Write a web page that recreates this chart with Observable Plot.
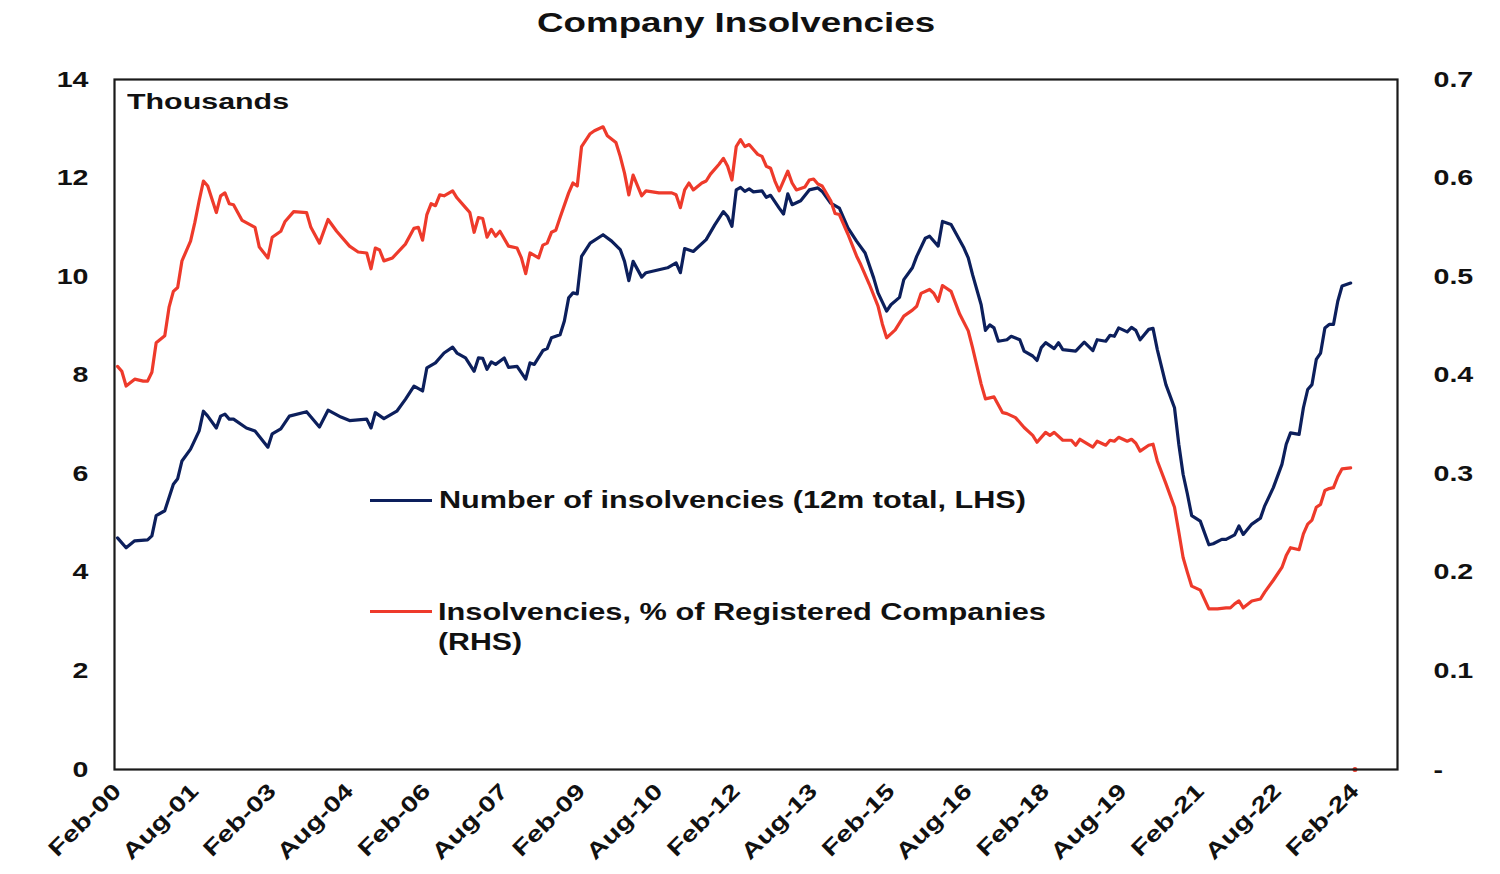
<!DOCTYPE html>
<html>
<head>
<meta charset="utf-8">
<script src="https://cdn.jsdelivr.net/npm/d3@7"></script>
<script src="https://cdn.jsdelivr.net/npm/@observablehq/plot@0.6"></script>
<style>
  body { margin: 0; background: #fff; }
  #wrap { position: relative; width: 1500px; height: 874px; overflow: hidden; font-family: 'Liberation Sans', Arial, sans-serif; font-weight: bold; color: #111; }
  .lbl { position: absolute; white-space: nowrap; transform-origin: 0 0; }
  .key { position: absolute; height: 3px; }
  #chart { position: absolute; left: 0; top: 55px; }
</style>
</head>
<body>
<div id="wrap">
  <div id="chart"></div>
</div>
<script>
// ---- Data (months since Feb-2000) ----
const xTickMonths = [0, 18, 36, 54, 72, 90, 108, 126, 144, 162, 180, 198, 216, 234, 252, 270, 288];
const xTickLabels = ["Feb-00","Aug-01","Feb-03","Aug-04","Feb-06","Aug-07","Feb-09","Aug-10","Feb-12","Aug-13","Feb-15","Aug-16","Feb-18","Aug-19","Feb-21","Aug-22","Feb-24"];
const leftTicks = [0, 2, 4, 6, 8, 10, 12, 14];

// Number of insolvencies (12m total, thousands, LHS)
const blueSeries = [[0,4.70],[2,4.50],[4,4.64],[7,4.66],[8,4.74],[9,5.15],[11,5.25],[13,5.79],[14,5.90],[15,6.26],[17,6.50],[19,6.87],[20,7.27],[21,7.17],[23,6.93],[24,7.17],[25,7.21],[26,7.11],[27,7.11],[30,6.93],[32,6.87],[35,6.54],[36,6.81],[38,6.91],[40,7.17],[44,7.26],[47,6.95],[49,7.29],[52,7.15],[54,7.08],[58,7.11],[59,6.93],[60,7.24],[62,7.12],[65,7.27],[67,7.51],[69,7.78],[71,7.68],[72,8.15],[74,8.25],[76,8.45],[78,8.57],[79,8.45],[81,8.35],[83,8.08],[84,8.35],[85,8.34],[86,8.12],[87,8.27],[88,8.22],[90,8.35],[91,8.16],[93,8.18],[95,7.92],[96,8.25],[97,8.22],[99,8.50],[100,8.54],[101,8.76],[103,8.82],[104,9.10],[105,9.57],[106,9.67],[107,9.65],[108,10.41],[110,10.68],[113,10.85],[115,10.72],[117,10.55],[118,10.31],[119,9.92],[120,10.31],[122,9.99],[123,10.08],[126,10.14],[128,10.18],[130,10.28],[131,10.08],[132,10.57],[134,10.51],[137,10.75],[139,11.05],[141,11.32],[142,11.22],[143,11.02],[144,11.76],[145,11.81],[146,11.73],[147,11.78],[148,11.72],[150,11.74],[151,11.61],[152,11.65],[154,11.39],[155,11.27],[156,11.68],[157,11.46],[159,11.54],[161,11.76],[163,11.80],[164,11.73],[166,11.49],[168,11.39],[170,10.99],[172,10.72],[174,10.48],[176,9.97],[177,9.67],[179,9.30],[180,9.43],[182,9.58],[183,9.94],[185,10.18],[186,10.41],[188,10.78],[189,10.82],[191,10.62],[192,11.12],[194,11.06],[197,10.58],[198,10.38],[199,10.04],[201,9.43],[202,8.91],[203,9.02],[204,8.96],[205,8.69],[207,8.72],[208,8.79],[210,8.72],[211,8.49],[213,8.39],[214,8.30],[215,8.56],[216,8.66],[218,8.54],[219,8.66],[220,8.52],[223,8.49],[225,8.67],[227,8.50],[228,8.72],[230,8.69],[231,8.81],[232,8.79],[233,8.96],[235,8.88],[236,8.97],[237,8.91],[238,8.72],[240,8.93],[241,8.95],[242,8.52],[244,7.81],[246,7.34],[247,6.60],[248,5.99],[249,5.59],[250,5.15],[252,5.04],[254,4.56],[255,4.58],[257,4.67],[258,4.67],[260,4.76],[261,4.94],[262,4.77],[264,4.98],[266,5.10],[267,5.35],[269,5.72],[271,6.19],[272,6.60],[273,6.83],[275,6.80],[276,7.34],[277,7.71],[278,7.81],[279,8.32],[280,8.45],[281,8.96],[282,9.03],[283,9.03],[284,9.50],[285,9.81],[287,9.87]];

// Insolvencies, % of registered companies (RHS)
const redSeries = [[0,0.409],[1,0.404],[2,0.389],[4,0.396],[6,0.394],[7,0.394],[8,0.403],[9,0.433],[11,0.440],[12,0.469],[13,0.485],[14,0.489],[15,0.516],[17,0.536],[18,0.555],[19,0.577],[20,0.597],[21,0.592],[23,0.565],[24,0.582],[25,0.585],[26,0.574],[27,0.573],[29,0.557],[32,0.550],[33,0.530],[35,0.519],[36,0.540],[38,0.546],[39,0.556],[41,0.566],[44,0.565],[45,0.550],[47,0.534],[49,0.558],[51,0.546],[54,0.531],[56,0.525],[58,0.524],[59,0.508],[60,0.529],[61,0.527],[62,0.516],[64,0.519],[67,0.533],[69,0.549],[70,0.550],[71,0.537],[72,0.563],[73,0.574],[74,0.572],[75,0.583],[76,0.582],[78,0.587],[79,0.580],[81,0.570],[82,0.565],[83,0.545],[84,0.560],[85,0.559],[86,0.540],[87,0.548],[88,0.541],[89,0.546],[91,0.531],[93,0.529],[94,0.519],[95,0.503],[96,0.524],[98,0.519],[99,0.532],[100,0.534],[101,0.545],[102,0.547],[103,0.560],[105,0.585],[106,0.595],[107,0.592],[108,0.632],[110,0.645],[111,0.648],[113,0.652],[114,0.643],[116,0.636],[117,0.622],[118,0.605],[119,0.583],[120,0.603],[122,0.582],[123,0.587],[126,0.585],[129,0.585],[130,0.583],[131,0.570],[132,0.588],[133,0.595],[134,0.588],[136,0.595],[137,0.597],[138,0.604],[140,0.614],[141,0.620],[142,0.612],[143,0.598],[144,0.632],[145,0.639],[146,0.632],[147,0.634],[148,0.629],[149,0.624],[150,0.622],[151,0.612],[152,0.610],[153,0.597],[154,0.587],[156,0.607],[157,0.595],[158,0.588],[160,0.591],[161,0.598],[162,0.599],[163,0.594],[164,0.592],[166,0.577],[167,0.564],[168,0.563],[170,0.543],[172,0.521],[173,0.512],[175,0.492],[177,0.470],[178,0.452],[179,0.438],[180,0.442],[181,0.446],[183,0.460],[185,0.466],[186,0.470],[187,0.483],[189,0.487],[190,0.483],[191,0.475],[192,0.491],[194,0.485],[196,0.462],[198,0.445],[199,0.428],[201,0.391],[202,0.376],[204,0.378],[206,0.362],[207,0.361],[209,0.357],[211,0.347],[213,0.339],[214,0.332],[216,0.342],[217,0.339],[218,0.342],[220,0.334],[222,0.334],[223,0.329],[224,0.335],[227,0.327],[228,0.333],[230,0.329],[231,0.334],[232,0.333],[233,0.337],[235,0.333],[236,0.335],[237,0.331],[238,0.323],[240,0.329],[241,0.330],[242,0.313],[244,0.290],[246,0.266],[247,0.241],[248,0.215],[249,0.200],[250,0.186],[252,0.182],[254,0.163],[256,0.163],[258,0.164],[259,0.164],[260,0.168],[261,0.171],[262,0.164],[264,0.171],[266,0.173],[267,0.180],[269,0.192],[271,0.205],[272,0.217],[273,0.225],[275,0.223],[276,0.239],[277,0.249],[278,0.253],[279,0.266],[280,0.269],[281,0.283],[282,0.285],[283,0.286],[284,0.297],[285,0.305],[287,0.306]];
// stray last RHS point at zero (Feb-24)
const redEndSeries = [[288, 0]];

// ---- Build ----
const BLUE = "#0c1f5c";
const RED = "#ee3a2b";
const RATIO = 20; // 0.1% on RHS = 2 thousand on LHS
const toObj = a => a.map(([m, v]) => ({m, v}));
const blue = toObj(blueSeries), red = toObj(redSeries), redEnd = toObj(redEndSeries);
const labelOf = new Map(xTickMonths.map((m, i) => [m, xTickLabels[i]]));

const chart = Plot.plot({
  width: 1500,
  height: 819,
  marginTop: 24,
  marginBottom: 105,
  marginLeft: 114,
  marginRight: 103,
  style: {fontFamily: "'Liberation Sans', Arial, sans-serif", fontSize: "22px", fontWeight: "bold", color: "#111", background: "white", overflow: "visible"},
  x: {domain: [-0.7, 297.9]},
  y: {domain: [0, 14]},
  marks: [
    Plot.axisY(leftTicks, {anchor: "left", tickSize: 0, tickPadding: 26, tickFormat: d => String(d), label: null}),
    Plot.axisY(leftTicks, {anchor: "right", tickSize: 0, tickPadding: 36, tickFormat: d => d === 0 ? "-" : (d / RATIO).toFixed(1), label: null}),
    Plot.axisX(xTickMonths, {anchor: "bottom", tickSize: 0, tickPadding: 18, tickRotate: -45, textAnchor: "end", tickFormat: d => labelOf.get(d), label: null}),
    Plot.line(blue, {x: "m", y: "v", stroke: BLUE, strokeWidth: 3.2}),
    Plot.line(red, {x: "m", y: d => d.v * RATIO, stroke: RED, strokeWidth: 3.2}),
    Plot.dot(redEnd, {x: "m", y: d => d.v * RATIO, r: 2.5, fill: RED}),
    Plot.frame({stroke: "#1a1a1a", strokeWidth: 2.2})
  ]
});
document.getElementById("chart").appendChild(chart);

// widen glyphs like the reference (its text is horizontally stretched)
const STRETCH = 1.3;
chart.querySelectorAll("text").forEach(t => {
  const len = t.getComputedTextLength();
  if (len > 0) {
    t.setAttribute("textLength", (len * STRETCH).toFixed(1));
    t.setAttribute("lengthAdjust", "spacingAndGlyphs");
  }
});

// ---- HTML text: title, unit label, legend ----
const wrap = document.getElementById("wrap");
function addLabel(text, left, baseline, fs, targetWidth) {
  const el = document.createElement("div");
  el.className = "lbl";
  el.textContent = text;
  el.style.fontSize = fs + "px";
  el.style.lineHeight = fs + "px";
  el.style.left = left + "px";
  el.style.top = (baseline - 0.8465 * fs) + "px";
  wrap.appendChild(el);
  const w = el.getBoundingClientRect().width;
  el.style.transform = `scaleX(${(targetWidth / w).toFixed(3)})`;
  return el;
}
function addKey(left, y, width, color) {
  const el = document.createElement("div");
  el.className = "key";
  el.style.left = left + "px";
  el.style.top = (y - 1.5) + "px";
  el.style.width = width + "px";
  el.style.background = color;
  wrap.appendChild(el);
}

addLabel("Company Insolvencies", 537, 33, 28, 398);
addLabel("Thousands", 127, 110, 22, 162);
addKey(370, 500, 62, BLUE);
addLabel("Number of insolvencies (12m total, LHS)", 439, 508, 23, 587);
addKey(370, 611, 62, RED);
addLabel("Insolvencies, % of Registered Companies", 438, 620, 23, 608);
addLabel("(RHS)", 438, 650, 23, 84);
</script>
</body>
</html>
